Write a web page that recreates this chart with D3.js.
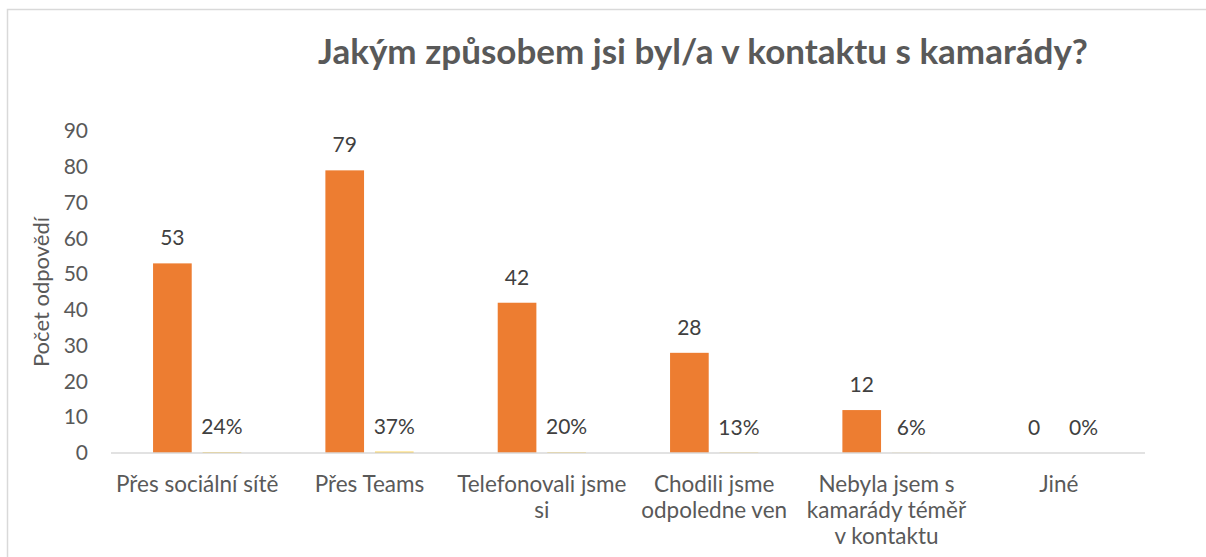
<!DOCTYPE html>
<html>
<head>
    <meta charset="UTF-8">
    <title>Kontakt s kamarády</title>
    <script src="https://cdn.jsdelivr.net/npm/d3@7"></script>
    <style>
        body { margin: 0; background: #fff; }
        text { font-family: Lato, "Open Sans", sans-serif; }
    </style>
</head>
<body>
<div id="chart"></div>
<script>
    // data
    var categories = ["Přes sociální sítě", "Přes Teams", "Telefonovali jsme si",
                      "Chodili jsme odpoledne ven", "Nebyla jsem s kamarády téměř v kontaktu", "Jiné"];
    var counts = [53, 79, 42, 28, 12, 0];
    var shares = [0.24, 0.37, 0.20, 0.13, 0.06, 0.00];
    var yTicks = [0, 10, 20, 30, 40, 50, 60, 70, 80, 90];
    var title = "Jakým způsobem jsi byl/a v kontaktu s kamarády?";
    var yTitle = "Počet odpovědí";

    var width = 1206, height = 557;
    var margin = {top: 131, left: 111, right: 61, bottom: 104};

    var svg = d3.select("#chart").append("svg")
        .attr("width", width)
        .attr("height", height);

    // chart frame
    svg.append("rect")
        .attr("x", 7.5).attr("y", 9.5)
        .attr("width", 1400).attr("height", 800)
        .attr("fill", "none")
        .attr("stroke", "#d9d9d9")
        .attr("stroke-width", 1.5);

    var x0 = d3.scaleBand()
        .domain(categories)
        .range([margin.left, width - margin.right]);

    var bw = x0.bandwidth();
    var x1 = d3.scaleBand()
        .domain(["count", "share"])
        .range([bw * 0.244, bw * 0.756])
        .paddingInner(0.22);

    var y = d3.scaleLinear()
        .domain([0, 90])
        .range([height - margin.bottom, margin.top]);

    // title
    svg.append("text")
        .attr("x", 703).attr("y", 64)
        .attr("text-anchor", "middle")
        .attr("font-size", 35)
        .attr("font-weight", "bold")
        .attr("fill", "#595959")
        .text(title);

    // y axis (labels only)
    var yAxis = svg.append("g")
        .attr("transform", "translate(" + (margin.left - 23) + ",0)")
        .call(d3.axisLeft(y).tickValues(yTicks).tickSize(0).tickPadding(0));
    yAxis.select(".domain").remove();
    yAxis.selectAll("text")
        .attr("font-size", 21)
        .attr("fill", "#595959")
        .style("font-family", "Lato, 'Open Sans', sans-serif");

    svg.append("text")
        .attr("transform", "translate(49," + 292 + ") rotate(-90)")
        .attr("text-anchor", "middle")
        .attr("font-size", 22)
        .attr("fill", "#595959")
        .text(yTitle);

    var groups = svg.selectAll(".cat")
        .data(categories)
        .enter().append("g")
        .attr("class", "cat")
        .attr("transform", function(d) { return "translate(" + x0(d) + ",0)"; });

    // count bars
    groups.append("rect")
        .attr("x", x1("count"))
        .attr("width", x1.bandwidth())
        .attr("y", function(d, i) { return y(counts[i]); })
        .attr("height", function(d, i) { return y(0) - y(counts[i]); })
        .attr("fill", "#ed7d31");

    // share bars (same axis, so they are almost flat)
    groups.append("rect")
        .attr("x", x1("share"))
        .attr("width", x1.bandwidth())
        .attr("y", function(d, i) { return y(shares[i]); })
        .attr("height", function(d, i) { return y(0) - y(shares[i]); })
        .attr("fill", "#ffc000");

    groups.append("text")
        .attr("x", x1("count") + x1.bandwidth() / 2)
        .attr("y", function(d, i) { return y(counts[i]) - 18; })
        .attr("text-anchor", "middle")
        .attr("font-size", 21)
        .attr("fill", "#404040")
        .text(function(d, i) { return counts[i]; });

    groups.append("text")
        .attr("x", x1("share") + x1.bandwidth() / 2)
        .attr("y", function(d, i) { return y(shares[i]) - 18; })
        .attr("text-anchor", "middle")
        .attr("font-size", 21)
        .attr("fill", "#404040")
        .text(function(d, i) { return d3.format(".0%")(shares[i]); });

    // baseline
    svg.append("line")
        .attr("x1", margin.left).attr("x2", width - margin.right)
        .attr("y1", y(0)).attr("y2", y(0))
        .attr("stroke", "#d9d9d9")
        .attr("stroke-width", 1.5);

    // category labels, wrapped
    groups.append("text")
        .attr("x", bw / 2)
        .attr("y", 492)
        .attr("text-anchor", "middle")
        .attr("font-size", 22.5)
        .attr("fill", "#595959")
        .text(function(d) { return d; })
        .call(wrap, bw);

    function wrap(sel, maxW) {
        sel.each(function() {
            var t = d3.select(this),
                words = t.text().split(/\s+/),
                line = [],
                xx = t.attr("x");
            t.text(null);
            var tspan = t.append("tspan").attr("x", xx).attr("dy", 0);
            words.forEach(function(w) {
                line.push(w);
                tspan.text(line.join(" "));
                if (tspan.node().getComputedTextLength() > maxW && line.length > 1) {
                    line.pop();
                    tspan.text(line.join(" "));
                    line = [w];
                    tspan = t.append("tspan").attr("x", xx).attr("dy", 26).text(w);
                }
            });
        });
    }
</script>
</body>
</html>
